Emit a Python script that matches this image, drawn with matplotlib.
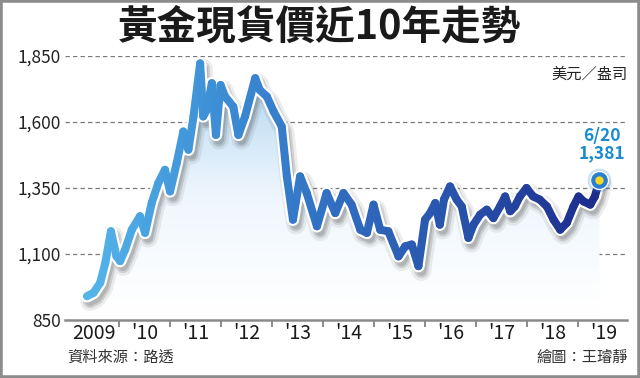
import numpy as np
import matplotlib
matplotlib.use("Agg")
import matplotlib.pyplot as plt
from matplotlib.collections import LineCollection
from matplotlib.colors import LinearSegmentedColormap
from matplotlib.patches import Rectangle, Polygon
import matplotlib.transforms as mtransforms

plt.rcParams['font.family'] = ['Noto Sans CJK TC', 'DejaVu Sans']

#--- data (decimal years / USD per ounce)
years = [2009.37, 2009.50, 2009.63, 2009.73, 2009.84, 2009.95, 2010.02, 2010.12,
         2010.25, 2010.41, 2010.51, 2010.64, 2010.77, 2010.90, 2011.00, 2011.13,
         2011.26, 2011.36, 2011.46, 2011.59, 2011.65, 2011.72, 2011.82, 2011.90,
         2011.99, 2012.08, 2012.24, 2012.34, 2012.47, 2012.67, 2012.76, 2012.90,
         2013.03, 2013.19, 2013.29, 2013.41, 2013.55, 2013.68, 2013.88, 2014.07,
         2014.24, 2014.40, 2014.56, 2014.73, 2014.86, 2014.99, 2015.12, 2015.28,
         2015.48, 2015.61, 2015.74, 2015.87, 2016.00, 2016.10, 2016.20, 2016.29,
         2016.37, 2016.49, 2016.62, 2016.72, 2016.85, 2016.95, 2017.08, 2017.21,
         2017.34, 2017.47, 2017.57, 2017.67, 2017.76, 2017.86, 2017.99, 2018.12,
         2018.25, 2018.39, 2018.52, 2018.65, 2018.78, 2018.91, 2019.01, 2019.11,
         2019.24, 2019.33, 2019.42]
prices = [940, 953, 991, 1066, 1186, 1091, 1073, 1117,
          1192, 1243, 1180, 1293, 1369, 1419, 1337, 1444,
          1564, 1495, 1621, 1822, 1621, 1646, 1747, 1551,
          1740, 1696, 1658, 1551, 1621, 1766, 1721, 1696,
          1640, 1583, 1394, 1230, 1394, 1331, 1205, 1331,
          1255, 1331, 1287, 1192, 1180, 1287, 1192, 1186,
          1091, 1129, 1136, 1054, 1230, 1255, 1293, 1211,
          1306, 1356, 1306, 1280, 1161, 1211, 1249, 1268,
          1236, 1280, 1318, 1262, 1280, 1318, 1350, 1318,
          1306, 1280, 1230, 1192, 1218, 1280, 1318, 1299,
          1287, 1318, 1381]

yticks = [850, 1100, 1350, 1600, 1850]
ytick_labels = ['850', '1,100', '1,350', '1,600', '1,850']
xlabels = ['2009', "'10", "'11", "'12", "'13", "'14", "'15", "'16", "'17", "'18", "'19"]
last_date = '6/20'
last_value = '1,381'

x = np.array(years)
y = np.array(prices)

fig = plt.figure(figsize=(6.4, 3.78), dpi=100)
ax = fig.add_axes([65/640, 58/378, 562/640, 264/378])
ax.set_xlim(2008.94, 2019.96)
ax.set_ylim(850, 1850)

#--- gradient fill under the line
fill_cmap = LinearSegmentedColormap.from_list('fill', ['#ffffff', '#eef6fd', '#bcdcf4'])
grad = np.linspace(0, 1, 256).reshape(-1, 1) ** 1.2
im = ax.imshow(grad, cmap=fill_cmap, aspect='auto', origin='lower',
               extent=[x[0], x[-1], 850, 1700], zorder=1)
poly = Polygon(np.column_stack([np.r_[x[0], x, x[-1]], np.r_[850, y, 850]]),
               closed=True, transform=ax.transData, facecolor='none', edgecolor='none')
ax.add_patch(poly)
im.set_clip_path(poly)

#--- grid
for v in yticks[1:]:
    ax.axhline(v, color='#7a7a7a', lw=0.9, ls=(0, (3.5, 2.5)), zorder=0.5)

#--- shadow
for lw, a in [(14, 0.10), (10, 0.18), (7, 0.22)]:
    tr = ax.transData + mtransforms.ScaledTranslation(0.03, -0.05, fig.dpi_scale_trans)
    ax.plot(x, y, color='#555555', lw=lw, alpha=a, transform=tr,
            solid_joinstyle='round', solid_capstyle='round', zorder=2, clip_on=False)

# white outline
ax.plot(x, y, color='white', lw=9, solid_joinstyle='round', solid_capstyle='round',
        zorder=3, clip_on=False)

#--- gradient line
line_cmap = LinearSegmentedColormap.from_list('line', ['#55b5ea', '#3d8fd6', '#306cc0', '#2750a8', '#1d2c8c'])
pts = np.column_stack([x, y]).reshape(-1, 1, 2)
segs = np.concatenate([pts[:-1], pts[1:]], axis=1)
mid = (x[:-1] + x[1:]) / 2
lc = LineCollection(segs, cmap=line_cmap, norm=plt.Normalize(x[0], x[-1]),
                    linewidths=5.8, capstyle='round', joinstyle='round', zorder=4, clip_on=False)
lc.set_array(mid)
ax.add_collection(lc)

#--- end marker
ax.plot(x[-1], y[-1], 'o', ms=17, mfc='#2a7fd0', mec='none', alpha=0.25, zorder=5, clip_on=False)
ax.plot(x[-1], y[-1], 'o', ms=13, mfc='#2a7fd0', mec='white', mew=1.0, zorder=5, clip_on=False)
ax.plot(x[-1], y[-1], 'o', ms=6, mfc='#f5d820', mec='none', zorder=6, clip_on=False)
ax.text(x[-1] + 0.05, y[-1] + 66, last_date + '\n' + last_value, color='#1a8ccc',
        fontsize=12.5, fontweight='bold', ha='center', va='bottom', linespacing=0.95, zorder=6)

#--- axes styling
for s in ['top', 'right', 'left']:
    ax.spines[s].set_visible(False)
ax.spines['bottom'].set_color('#8a8a8a')
ax.spines['bottom'].set_linewidth(1.8)
ax.spines['bottom'].set_zorder(7)
ax.set_yticks(yticks)
ax.set_yticklabels(ytick_labels)
ax.tick_params(axis='y', length=0, pad=3, labelsize=12.5, labelcolor='#222222')
ax.set_xticks(np.arange(2010, 2020))
ax.set_xticklabels([])
ax.tick_params(axis='x', length=5, width=1.4, color='#8a8a8a', direction='out')
xoff = mtransforms.ScaledTranslation(0, -3/100, fig.dpi_scale_trans)
for i, lab in enumerate(xlabels):
    ax.text(2009.5 + i, 850, lab, transform=ax.transData + xoff, ha='center', va='top',
            fontsize=14, color='#1a1a1a')

#--- titles and notes
fig.text(0.5, 1 - 27/378, '黃金現貨價近10年走勢', ha='center', va='center',
         fontsize=28.5, fontweight='bold', color='#1a1a1a')
fig.text(628/640, 1 - 74/378, '美元／盎司', ha='right', va='center', fontsize=11, color='#222222')
fig.text(67/640, 1 - 357/378, '資料來源：路透', ha='left', va='center', fontsize=11, color='#333333')
fig.text(628/640, 1 - 357/378, '繪圖：王璿靜', ha='right', va='center', fontsize=11, color='#333333')

# outer frame
fig.patches.append(Rectangle((0, 0), 1, 1, transform=fig.transFigure, fill=False,
                             edgecolor='#8c8c8c', lw=4))

fig.savefig('out.png', dpi=100)
